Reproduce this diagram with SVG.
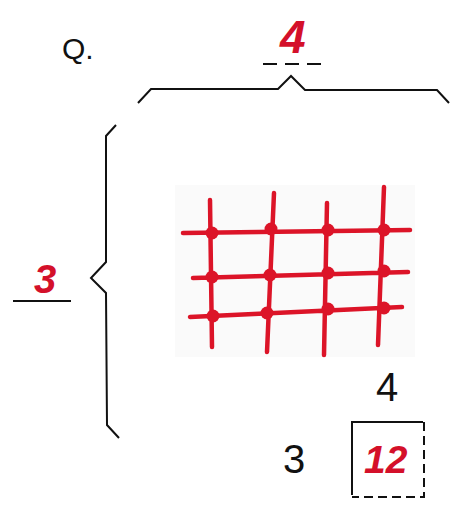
<svg xmlns="http://www.w3.org/2000/svg" width="453" height="505" viewBox="0 0 453 505">
<style>
.ink{fill:none;stroke:#111;stroke-width:2;stroke-linejoin:miter}
.blk{font-family:"Liberation Sans",Arial,sans-serif;fill:#111}
.red{font-family:"Liberation Sans",Arial,sans-serif;font-style:italic;font-weight:bold;fill:#d4102a}
.grid{fill:none;stroke:#dc1428;stroke-width:4.5;stroke-linecap:round}
.dot{fill:#dc1428}
</style>
<rect width="453" height="505" fill="#fff"/>
<g id="question">
<text class="blk" x="62" y="59" font-size="30">Q.</text>
</g>
<g id="top-label">
<text class="red" x="280" y="53" font-size="46">4</text>
<line x1="263" y1="64" x2="321" y2="64" stroke="#111" stroke-width="2" stroke-dasharray="14,8"/>
</g>
<g id="top-brace">
<polyline class="ink" points="138,103 151,89 278,89 291,76 305,90 437,90 449,103"/>
</g>
<g id="left-label">
<text class="red" x="34" y="293" font-size="40">3</text>
<line x1="13" y1="301" x2="71" y2="301" stroke="#111" stroke-width="2"/>
</g>
<g id="left-brace">
<polyline class="ink" points="116,125 106,136 106,262 91,278 106,293 107,425 119,438"/>
</g>
<g id="grid">
<rect x="175" y="185" width="240" height="172" fill="#fafafa"/>
<path class="grid" d="M183,233 L410,230 M193,278 L408,272 M190,317 L402,307 M210,200 L212,347 M274,193 L267,352 M327,203 L324,355 M384,187 L378,345"/>
<g class="dot">
<circle cx="212" cy="233" r="6.5"/><circle cx="271" cy="229" r="6.5"/><circle cx="328" cy="230" r="6.5"/><circle cx="384" cy="230" r="6.5"/>
<circle cx="212" cy="277" r="6.5"/><circle cx="270" cy="275" r="6.5"/><circle cx="328" cy="273" r="6.5"/><circle cx="384" cy="271" r="6.5"/>
<circle cx="213" cy="316" r="6.5"/><circle cx="267" cy="313" r="6.5"/><circle cx="328" cy="309" r="6.5"/><circle cx="384" cy="308" r="6.5"/>
</g>
</g>
<g id="division">
<text class="blk" x="376" y="401" font-size="40">4</text>
<text class="blk" x="283" y="473" font-size="40">3</text>
<polyline class="ink" points="352,495 352,422 423,422"/>
<polyline points="424,422 424,497 352,497" fill="none" stroke="#111" stroke-width="2" stroke-dasharray="9,5"/>
<text class="red" x="364" y="473" font-size="39" font-weight="normal">12</text>
</g>
</svg>
